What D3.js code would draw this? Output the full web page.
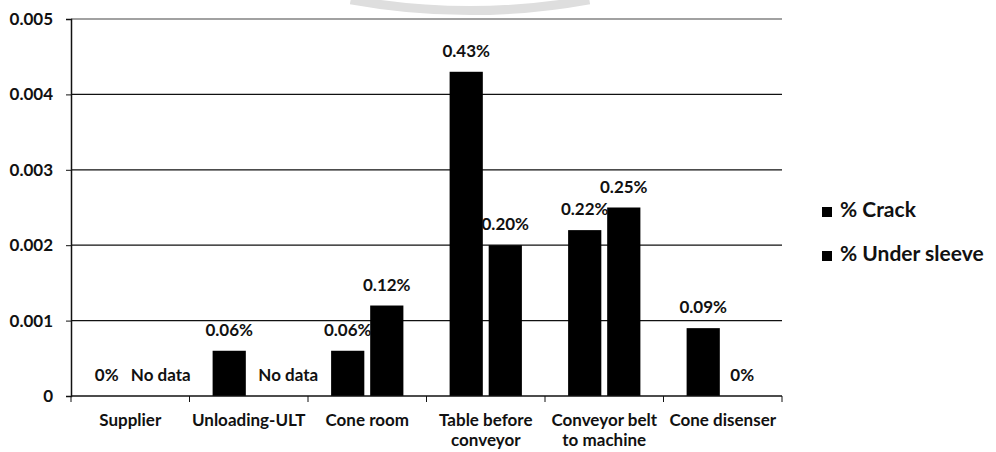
<!DOCTYPE html>
<html>
<head>
<meta charset="utf-8">
<script src="https://cdn.jsdelivr.net/npm/d3@7"></script>
<style>
  html, body { margin: 0; padding: 0; background: #fff; }
  svg { display: block; }
  text { font-family: Lato, "Open Sans", sans-serif; fill: #111; }
</style>
</head>
<body>
<svg id="chart" width="996" height="452"></svg>
<script>
// Stage names (two-line labels split on "|")
const categories = ["Supplier", "Unloading-ULT", "Cone room", "Table before|conveyor", "Conveyor belt|to machine", "Cone disenser"];
const seriesNames = ["% Crack", "% Under sleeve"];
// Fraction values; null = no data recorded
const crack = [0, 0.0006, 0.0006, 0.0043, 0.0022, 0.0009];
const underSleeve = [null, null, 0.0012, 0.0020, 0.0025, 0];
const yTicks = [0, 0.001, 0.002, 0.003, 0.004, 0.005];

const svg = d3.select("#chart");
const margin = { left: 71, right: 214, top: 19, bottom: 56 };
const W = 996, H = 452;

// faint decorative arc along the top edge
svg.append("path")
  .attr("d", d3.arc()({ innerRadius: 662, outerRadius: 671, startAngle: Math.PI - 0.18, endAngle: Math.PI + 0.18 }))
  .attr("transform", "translate(470,-656)")
  .attr("fill", "#dedede");

const x0 = d3.scaleBand().domain(categories).range([margin.left, W - margin.right]).paddingInner(0.39).paddingOuter(0.195);
const step = (W - margin.right - margin.left) / categories.length;
const x1 = d3.scaleBand().domain(seriesNames).range([0, x0.bandwidth()]).paddingInner(0.15);
const y = d3.scaleLinear().domain([0, 0.005]).range([H - margin.bottom, margin.top]);

const g = svg.append("g");

// horizontal gridlines
g.selectAll("line.grid").data(yTicks.filter(d => d > 0)).join("line")
  .attr("class", "grid")
  .attr("x1", margin.left).attr("x2", W - margin.right)
  .attr("y1", d => y(d)).attr("y2", d => y(d))
  .attr("stroke", d => d === 0.005 ? "#444" : "#111").attr("stroke-width", 1.2);

// y axis
const yAxis = d3.axisLeft(y).tickValues(yTicks).tickFormat(d => d === 0 ? "0" : d3.format(".3f")(d)).tickSize(5).tickPadding(13);
const ya = g.append("g").attr("transform", `translate(${margin.left},0)`).call(yAxis);
ya.select(".domain").attr("stroke", "#111").attr("stroke-width", 1.5);
ya.selectAll(".tick line").attr("stroke", "#111");
ya.selectAll(".tick text").attr("font-size", 17).attr("font-weight", 700).attr("fill", "#111")
  .attr("font-family", "Lato, sans-serif");

// bars
const rows = categories.map((c, i) => ({ cat: c, vals: [crack[i], underSleeve[i]] }));
const groups = g.selectAll("g.cat").data(rows).join("g").attr("class", "cat")
  .attr("transform", d => `translate(${x0(d.cat)},0)`);

groups.selectAll("rect").data(d => d.vals.map((v, j) => ({ s: seriesNames[j], v })).filter(e => e.v))
  .join("rect")
  .attr("x", e => x1(e.s)).attr("width", x1.bandwidth())
  .attr("y", e => y(e.v)).attr("height", e => y(0) - y(e.v))
  .attr("fill", "#000");

// value labels
const labelOffset = { "Supplier": [-4, 11], "Unloading-ULT": [0, 20] };
groups.selectAll("text.val").data(d => d.vals.map((v, j) => ({ cat: d.cat, s: seriesNames[j], j, v })))
  .join("text").attr("class", "val")
  .attr("x", e => x1(e.s) + x1.bandwidth() / 2 + ((labelOffset[e.cat] || [0, 0])[e.j]))
  .attr("y", e => y(e.v || 0) - 15)
  .attr("text-anchor", "middle")
  .attr("font-size", 17).attr("font-weight", 700)
  .text(e => e.v === null ? "No data" : (e.v === 0 ? "0%" : d3.format(".2f")(e.v * 100) + "%"));

// x axis
const xa = g.append("g").attr("transform", `translate(0,${y(0)})`);
xa.append("line").attr("x1", margin.left).attr("x2", W - margin.right).attr("stroke", "#111").attr("stroke-width", 1.5);
xa.selectAll("line.tk").data(d3.range(categories.length + 1)).join("line").attr("class", "tk")
  .attr("x1", i => margin.left + i * step).attr("x2", i => margin.left + i * step)
  .attr("y1", 0).attr("y2", 6).attr("stroke", "#111");
const xl = xa.selectAll("text.cl").data(categories).join("text").attr("class", "cl")
  .attr("text-anchor", "middle").attr("font-size", 17).attr("font-weight", 700)
  .attr("transform", d => `translate(${x0(d) + x0.bandwidth() / 2},30)`);
xl.selectAll("tspan").data(d => d.split("|")).join("tspan")
  .attr("x", 0).attr("dy", (d, i) => i ? 20 : 0).text(d => d);

// legend
const lg = svg.append("g").attr("transform", "translate(822,207)");
const li = lg.selectAll("g").data(seriesNames).join("g").attr("transform", (d, i) => `translate(0,${i * 44})`);
li.append("rect").attr("width", 10).attr("height", 10).attr("fill", "#000");
li.append("text").attr("x", 18).attr("y", 10).attr("font-size", 21).attr("font-weight", 700).text(d => d);
</script>
</body>
</html>
